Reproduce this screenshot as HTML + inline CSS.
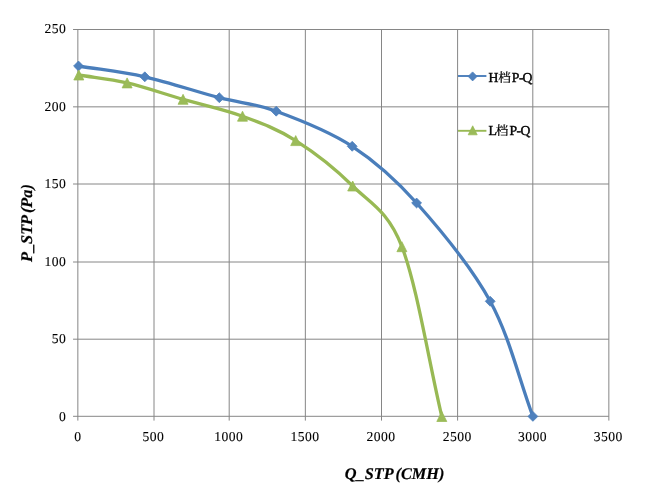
<!DOCTYPE html>
<html><head><meta charset="utf-8"><title>P-Q</title><style>html,body{margin:0;padding:0;background:#fff}svg{display:block}</style></head><body>
<svg width="662" height="491" viewBox="0 0 662 491" text-rendering="geometricPrecision">
<rect width="662" height="491" fill="#fff"/>
<path d="M77.85 29.00 V420.60 M154.00 29.00 V420.60 M229.20 29.00 V420.60 M305.35 29.00 V420.60 M381.50 29.00 V420.60 M457.60 29.00 V420.60 M532.80 29.00 V420.60 M608.85 29.00 V420.60 M73.05 29.50 H608.85 M73.05 106.85 H608.85 M73.05 184.00 H608.85 M73.05 262.00 H608.85 M73.05 339.20 H608.85 M73.05 416.30 H608.85" stroke="#868686" stroke-width="1" fill="none"/>
<g font-family="'Liberation Serif','Noto Serif CJK SC',serif" font-size="13.6" fill="#000" stroke="#000" stroke-width="0.1">
<text x="77.85" y="440.9" text-anchor="middle" letter-spacing="0.45">0</text>
<text x="153.40" y="440.9" text-anchor="middle" letter-spacing="0.45">500</text>
<text x="228.80" y="440.9" text-anchor="middle" letter-spacing="0.45">1000</text>
<text x="304.95" y="440.9" text-anchor="middle" letter-spacing="0.45">1500</text>
<text x="381.10" y="440.9" text-anchor="middle" letter-spacing="0.45">2000</text>
<text x="457.20" y="440.9" text-anchor="middle" letter-spacing="0.45">2500</text>
<text x="532.40" y="440.9" text-anchor="middle" letter-spacing="0.45">3000</text>
<text x="608.25" y="440.9" text-anchor="middle" letter-spacing="0.45">3500</text>
<text x="66.2" y="33.40" text-anchor="end" letter-spacing="0.45">250</text>
<text x="66.2" y="110.75" text-anchor="end" letter-spacing="0.45">200</text>
<text x="66.2" y="187.90" text-anchor="end" letter-spacing="0.45">150</text>
<text x="66.2" y="265.90" text-anchor="end" letter-spacing="0.45">100</text>
<text x="66.2" y="343.10" text-anchor="end" letter-spacing="0.45">50</text>
<text x="66.2" y="420.50" text-anchor="end" letter-spacing="0.45">0</text>
<text y="81.80" font-size="13.7" stroke="#000" stroke-width="0.4"><tspan x="488.40">H</tspan><tspan x="498.30" dy="0.1" font-size="12.6" font-weight="500" stroke-width="0.15">档</tspan><tspan x="511.80" dy="-0.1">P</tspan><tspan x="518.90">-</tspan><tspan x="522.60">Q</tspan></text>
<text y="135.30" font-size="13.7" stroke="#000" stroke-width="0.4"><tspan x="488.50">L</tspan><tspan x="495.70" dy="0.1" font-size="12.6" font-weight="500" stroke-width="0.15">档</tspan><tspan x="509.60" dy="-0.1">P</tspan><tspan x="516.60">-</tspan><tspan x="520.50">Q</tspan></text>
</g>
<g font-family="'Liberation Serif',serif" font-size="16.3" font-weight="bold" font-style="italic" fill="#000" stroke="#000" stroke-width="0.2" word-spacing="-1.6">
<text x="344.8" y="478.7">Q_STP (CMH)</text>
<text transform="translate(31.9 262.0) rotate(-90)">P_STP (Pa)</text>
</g>
<path d="M78.50 66.00 C100.60 69.60 121.33 71.52 144.80 76.80 C168.27 82.08 197.40 91.97 219.30 97.70 C241.20 103.43 254.05 103.10 276.20 111.20 C298.35 119.30 328.80 131.00 352.20 146.30 C375.60 161.60 393.60 177.17 416.60 203.00 C439.60 228.83 470.82 265.73 490.20 301.30 C509.58 336.87 518.67 378.03 532.90 416.40" stroke="#4A7EBB" stroke-width="3.3" fill="none" stroke-linecap="round" stroke-linejoin="round"/>
<path d="M78.80 75.00 C94.90 77.63 109.72 78.85 127.10 82.90 C144.47 86.95 163.82 93.75 183.05 99.30 C202.28 104.85 223.72 109.32 242.50 116.20 C261.27 123.08 277.33 128.97 295.70 140.60 C314.07 152.23 335.00 168.32 352.70 186.00 C369.49 202.77 387.81 210.26 401.90 246.70 C416.75 285.12 428.50 359.90 441.80 416.50" stroke="#98B954" stroke-width="3.3" fill="none" stroke-linecap="round" stroke-linejoin="round"/>
<path d="M78.50 61.05 L83.45 66.00 L78.50 70.95 L73.55 66.00Z" fill="#4F81BD" stroke="#4A7EBB" stroke-width="0.75"/>
<path d="M144.80 71.85 L149.75 76.80 L144.80 81.75 L139.85 76.80Z" fill="#4F81BD" stroke="#4A7EBB" stroke-width="0.75"/>
<path d="M219.30 92.75 L224.25 97.70 L219.30 102.65 L214.35 97.70Z" fill="#4F81BD" stroke="#4A7EBB" stroke-width="0.75"/>
<path d="M276.20 106.25 L281.15 111.20 L276.20 116.15 L271.25 111.20Z" fill="#4F81BD" stroke="#4A7EBB" stroke-width="0.75"/>
<path d="M352.20 141.35 L357.15 146.30 L352.20 151.25 L347.25 146.30Z" fill="#4F81BD" stroke="#4A7EBB" stroke-width="0.75"/>
<path d="M416.60 198.05 L421.55 203.00 L416.60 207.95 L411.65 203.00Z" fill="#4F81BD" stroke="#4A7EBB" stroke-width="0.75"/>
<path d="M490.20 296.35 L495.15 301.30 L490.20 306.25 L485.25 301.30Z" fill="#4F81BD" stroke="#4A7EBB" stroke-width="0.75"/>
<path d="M532.90 411.45 L537.85 416.40 L532.90 421.35 L527.95 416.40Z" fill="#4F81BD" stroke="#4A7EBB" stroke-width="0.75"/>
<path d="M78.80 70.00 L83.80 80.00 L73.80 80.00Z" fill="#9BBB59" stroke="#98B954" stroke-width="0.75"/>
<path d="M127.10 77.90 L132.10 87.90 L122.10 87.90Z" fill="#9BBB59" stroke="#98B954" stroke-width="0.75"/>
<path d="M183.05 94.30 L188.05 104.30 L178.05 104.30Z" fill="#9BBB59" stroke="#98B954" stroke-width="0.75"/>
<path d="M242.50 111.20 L247.50 121.20 L237.50 121.20Z" fill="#9BBB59" stroke="#98B954" stroke-width="0.75"/>
<path d="M295.70 135.60 L300.70 145.60 L290.70 145.60Z" fill="#9BBB59" stroke="#98B954" stroke-width="0.75"/>
<path d="M352.70 181.00 L357.70 191.00 L347.70 191.00Z" fill="#9BBB59" stroke="#98B954" stroke-width="0.75"/>
<path d="M401.90 241.70 L406.90 251.70 L396.90 251.70Z" fill="#9BBB59" stroke="#98B954" stroke-width="0.75"/>
<path d="M441.80 411.50 L446.80 421.50 L436.80 421.50Z" fill="#9BBB59" stroke="#98B954" stroke-width="0.75"/>
<path d="M458.0 76.0 H486.4" stroke="#4A7EBB" stroke-width="1.9"/>
<path d="M472.60 71.90 L477.10 76.40 L472.60 80.90 L468.10 76.40Z" fill="#4F81BD" stroke="#4A7EBB" stroke-width="0.75"/>
<path d="M458.0 130.8 H486.4" stroke="#98B954" stroke-width="1.9"/>
<path d="M472.70 125.80 L477.20 134.80 L468.20 134.80Z" fill="#9BBB59" stroke="#98B954" stroke-width="0.75"/>
</svg>
</body></html>
